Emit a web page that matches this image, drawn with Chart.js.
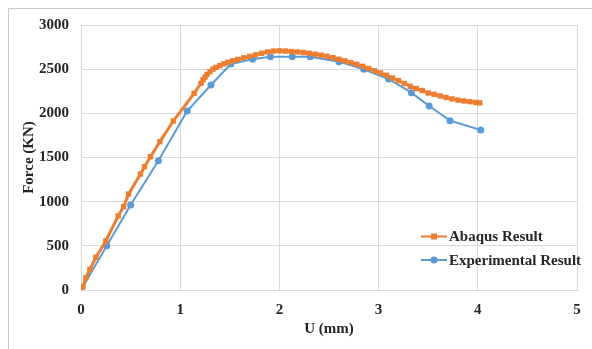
<!DOCTYPE html>
<html>
<head>
<meta charset="utf-8">
<script src="https://cdn.jsdelivr.net/npm/chart.js@4"></script>
<style>
    html, body { margin: 0; padding: 0; background: #fff; }
    #box { width: 592px; height: 349px; position: relative; }
</style>
</head>
<body>
<div id="box"><canvas id="grafico" width="592" height="349"></canvas></div>
<script>
// Force x deslocamento

var abaqusU = [0, 0.02, 0.05, 0.09, 0.15, 0.25, 0.375, 0.43, 0.48, 0.6, 0.64, 0.70, 0.795, 0.93, 1.14,
    1.21, 1.23, 1.25, 1.27, 1.30, 1.33, 1.36, 1.40, 1.44, 1.48, 1.53, 1.58, 1.64, 1.70, 1.76, 1.82,
    1.88, 1.94, 2.00, 2.06, 2.12, 2.18, 2.24, 2.30, 2.36, 2.42, 2.48, 2.54, 2.60, 2.66, 2.72, 2.78,
    2.84, 2.90, 2.96, 3.02, 3.08, 3.14, 3.20, 3.26, 3.32, 3.38, 3.44, 3.50, 3.56, 3.62, 3.68, 3.74,
    3.80, 3.86, 3.92, 3.98, 4.02];
var abaqusF = [0, 40, 140, 234, 370, 555, 838, 943, 1087, 1313, 1396, 1509, 1679, 1913, 2227,
    2340, 2380, 2410, 2440, 2472, 2500, 2520, 2540, 2560, 2578, 2595, 2610, 2628, 2645, 2662, 2680,
    2695, 2705, 2708, 2705, 2700, 2695, 2688, 2680, 2670, 2658, 2645, 2630, 2612, 2594, 2575, 2555,
    2532, 2508, 2482, 2457, 2430, 2400, 2370, 2338, 2305, 2280, 2258, 2230, 2215, 2197, 2180, 2163,
    2150, 2140, 2132, 2124, 2118];

var expU = [0, 0.26, 0.5, 0.78, 1.07, 1.31, 1.51, 1.73, 1.91, 2.13, 2.31, 2.6, 2.85, 3.1, 3.33, 3.51, 3.72, 4.03];
var expF = [0, 500, 962, 1464, 2026, 2321, 2559, 2612, 2641, 2641, 2641, 2585, 2498, 2389, 2234, 2083, 1917, 1811];

var xTicks = [0, 1, 2, 3, 4, 5];
var yTicks = [0, 500, 1000, 1500, 2000, 2500, 3000];

var serieNomes = ['Abaqus Result', 'Experimental Result'];
var corLaranja = '#ED7D31';
var corAzul = '#5B9BD5';

var fonte = "'Liberation Serif', 'Times New Roman', serif";
var corTexto = '#262626';

function pares(us, fs) {
    var pts = [];
    for (var i = 0; i < us.length; i++) {
        pts.push({ x: us[i], y: fs[i] });
    }
    return pts;
}

// moldura + legenda dentro da area do grafico
var extras = {
    id: 'extras',
    beforeDraw: function (chart) {
        var ctx = chart.ctx;
        ctx.save();
        ctx.fillStyle = '#fff';
        ctx.fillRect(0, 0, chart.width, chart.height);
        ctx.strokeStyle = '#c9c9c9';
        ctx.lineWidth = 1;
        ctx.beginPath();
        ctx.moveTo(8.5, chart.height);
        ctx.lineTo(8.5, 8.5);
        ctx.lineTo(chart.width, 8.5);
        ctx.stroke();
        ctx.restore();
    },
    afterDraw: function (chart) {
        var ctx = chart.ctx;
        var linhas = [
            { nome: serieNomes[0], cor: corLaranja, y: 236.5, estilo: 'rect' },
            { nome: serieNomes[1], cor: corAzul, y: 260, estilo: 'circle' }
        ];
        ctx.save();
        for (var i = 0; i < linhas.length; i++) {
            var l = linhas[i];
            ctx.strokeStyle = l.cor;
            ctx.lineWidth = 2;
            ctx.beginPath();
            ctx.moveTo(421, l.y);
            ctx.lineTo(447, l.y);
            ctx.stroke();
            ctx.fillStyle = l.cor;
            if (l.estilo == 'rect') {
                ctx.fillRect(431, l.y - 3, 6, 6);
            } else {
                ctx.beginPath();
                ctx.arc(434, l.y, 3.5, 0, Math.PI * 2);
                ctx.fill();
            }
            ctx.fillStyle = corTexto;
            ctx.font = 'bold 15px ' + fonte;
            ctx.textBaseline = 'middle';
            ctx.fillText(l.nome, 449, l.y + 1);
        }
        ctx.restore();
    }
};

var ctx = document.getElementById('grafico').getContext('2d');

var myChart = new Chart(ctx, {
    type: 'line',
    data: {
        datasets: [{
            label: serieNomes[0],
            data: pares(abaqusU, abaqusF),
            borderColor: corLaranja,
            backgroundColor: corLaranja,
            borderWidth: 3,
            pointStyle: 'rect',
            pointRadius: 3.8,
            pointBorderWidth: 0,
            tension: 0
        }, {
            label: serieNomes[1],
            data: pares(expU, expF),
            borderColor: corAzul,
            backgroundColor: corAzul,
            borderWidth: 2,
            pointStyle: 'circle',
            pointRadius: 3.5,
            pointBorderWidth: 0,
            tension: 0
        }]
    },
    options: {
        responsive: false,
        animation: false,
        layout: { padding: { top: 25, right: 15, left: 0, bottom: 0 } },
        plugins: {
            legend: { display: false },
            tooltip: { enabled: false }
        },
        scales: {
            x: {
                type: 'linear',
                min: 0,
                max: 5,
                afterBuildTicks: function (axis) {
                    axis.ticks = xTicks.map(function (v) { return { value: v }; });
                },
                afterFit: function (axis) { axis.height = 59; },
                grid: { color: '#d9d9d9', drawTicks: false },
                border: { color: '#d9d9d9' },
                ticks: {
                    padding: 11,
                    color: corTexto,
                    font: { family: fonte, size: 15, weight: 'bold' },
                    callback: function (v) { return String(v); }
                },
                title: {
                    display: true,
                    text: 'U (mm)',
                    color: corTexto,
                    padding: { top: 0, bottom: 11 },
                    font: { family: fonte, size: 15, weight: 'bold' }
                }
            },
            y: {
                min: 0,
                max: 3000,
                afterBuildTicks: function (axis) {
                    axis.ticks = yTicks.map(function (v) { return { value: v }; });
                },
                afterFit: function (axis) { axis.width = 81; },
                grid: { color: '#d9d9d9', drawTicks: false },
                border: { color: '#d9d9d9' },
                ticks: {
                    padding: 12,
                    color: corTexto,
                    font: { family: fonte, size: 15, weight: 'bold' },
                    callback: function (v) { return String(v); }
                },
                title: {
                    display: true,
                    text: 'Force (KN)',
                    color: corTexto,
                    padding: { top: 20, bottom: 0 },
                    font: { family: fonte, size: 15, weight: 'bold' }
                }
            }
        }
    },
    plugins: [extras]
});
</script>
</body>
</html>
